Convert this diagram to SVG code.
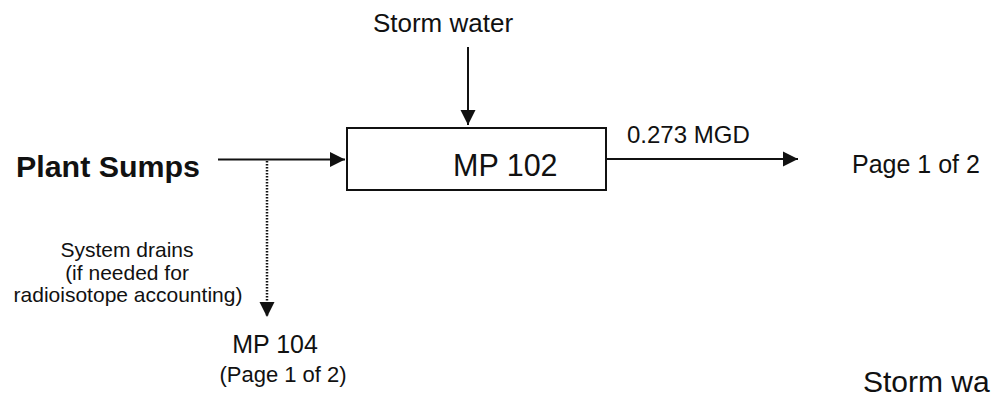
<svg xmlns="http://www.w3.org/2000/svg" width="993" height="403" viewBox="0 0 993 403">
<style>
text{font-family:"Liberation Sans",Arial,sans-serif;fill:#111}
.ln{stroke:#111;stroke-width:2;fill:none}
.dot{stroke:#111;stroke-width:2.5;fill:none;stroke-dasharray:1.5 1.5}
.box{fill:#fff;stroke:#111;stroke-width:2}
</style>
<defs>
<marker id="ah" markerUnits="userSpaceOnUse" markerWidth="16" markerHeight="16" viewBox="0 0 16 16" refX="15" refY="8" orient="auto">
<path d="M0,0.5 L15,8 L0,15.5 Z" fill="#111"/>
</marker>
</defs>
<rect width="993" height="403" fill="#fff"/>
<g id="connectors">
<line class="ln" x1="468" y1="47" x2="468" y2="125" marker-end="url(#ah)"/>
<line class="ln" x1="218" y1="159.5" x2="345" y2="159.5" marker-end="url(#ah)"/>
<line class="dot" x1="267" y1="161" x2="267" y2="317" marker-end="url(#ah)"/>
<line class="ln" x1="607" y1="159" x2="798" y2="159" marker-end="url(#ah)"/>
</g>
<g id="storm-water-top">
<text x="443" y="32" font-size="26" text-anchor="middle">Storm water</text>
</g>
<g id="plant-sumps">
<text x="16" y="177" font-size="30" font-weight="bold" textLength="184" lengthAdjust="spacingAndGlyphs">Plant Sumps</text>
</g>
<g id="mp102">
<rect class="box" x="347" y="128" width="259" height="62"/>
<text x="453" y="176" font-size="30.5">MP 102</text>
</g>
<g id="flow-label">
<text x="627" y="143" font-size="24">0.273 MGD</text>
</g>
<g id="page-ref">
<text x="852" y="173" font-size="25">Page 1 of 2</text>
</g>
<g id="system-drains-label">
<text x="127" y="257" font-size="21" text-anchor="middle">System drains</text>
<text x="127" y="280" font-size="21" text-anchor="middle">(if needed for</text>
<text x="128" y="302" font-size="21" text-anchor="middle">radioisotope accounting)</text>
</g>
<g id="mp104">
<text x="275" y="353" font-size="25" text-anchor="middle">MP 104</text>
<text x="283" y="382" font-size="22" text-anchor="middle">(Page 1 of 2)</text>
</g>
<g id="storm-water-bottom">
<text x="863" y="392" font-size="30">Storm wa</text>
</g>
</svg>
